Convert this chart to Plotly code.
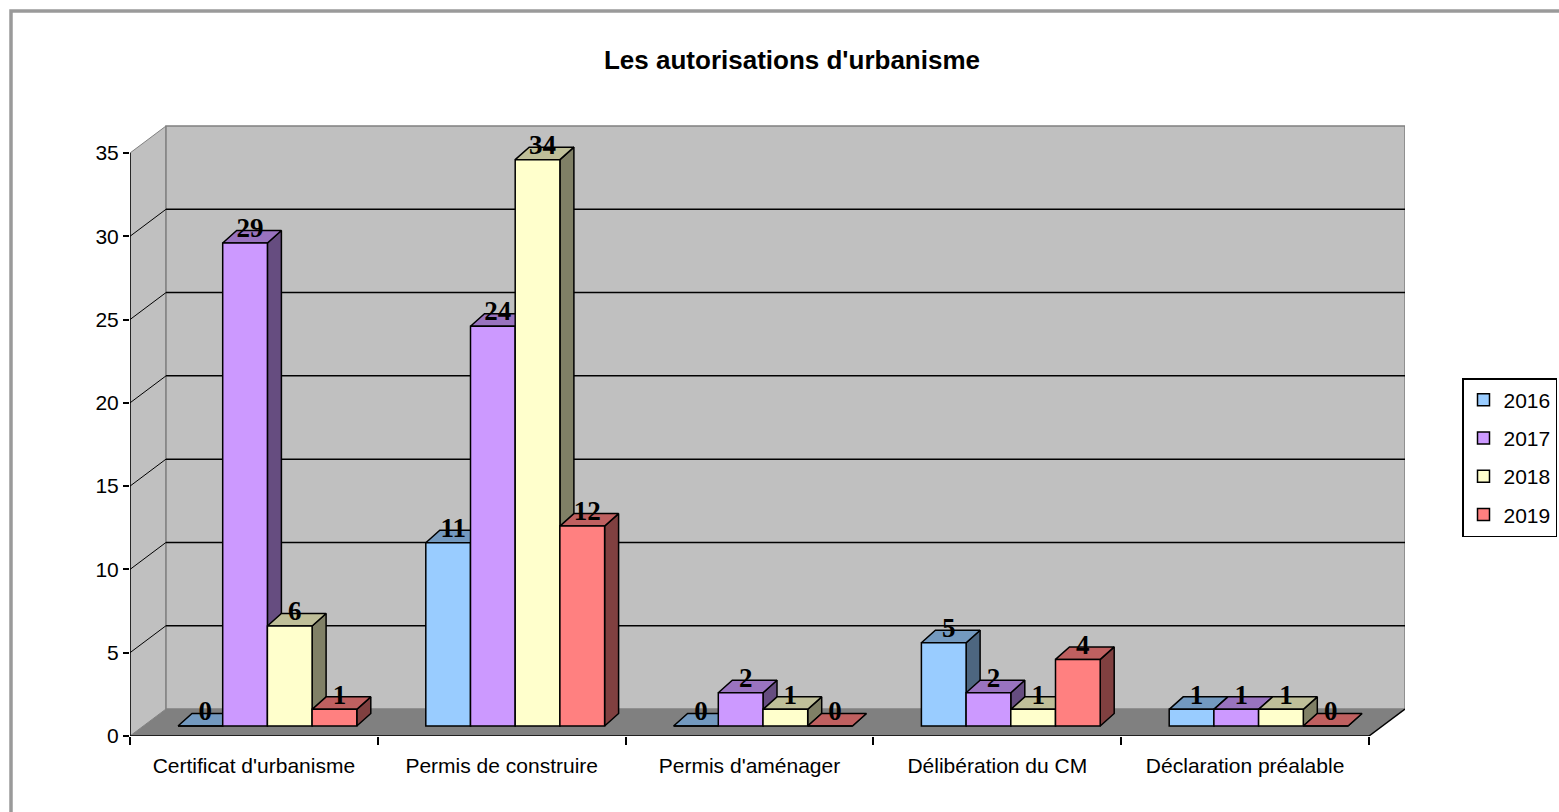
import plotly.graph_objects as go

# ---------------- data ----------------
categories = ["Certificat d'urbanisme", "Permis de construire", "Permis d'aménager",
              "Délibération du CM", "Déclaration préalable"]
years = ["2016", "2017", "2018", "2019"]
v2016 = [0, 11, 0, 5, 1]
v2017 = [29, 24, 2, 2, 1]
v2018 = [6, 34, 1, 1, 1]
v2019 = [1, 12, 0, 4, 0]
y_ticks = [0, 5, 10, 15, 20, 25, 30, 35]
title_text = "Les autorisations d'urbanisme"

series = [v2016, v2017, v2018, v2019]
front_colors = ["#99CCFF", "#CC99FF", "#FFFFCC", "#FF8080"]
top_colors = ["#7399BF", "#9973BF", "#BFBF99", "#BF6060"]
side_colors = ["#4D6680", "#664D80", "#808066", "#804040"]

# ---------------- geometry (pixel-based layout constants) ----------------
W, H = 1559, 812
ML, MT = 130, 124
plot_w, plot_h = 1275, 612
MR = W - ML - plot_w
MB = H - MT - plot_h
PXX = (plot_w - 36) / 5.0          # px per category unit
PXY = 583 / 35.0                    # px per value unit
FDX = 36 / PXX                      # floor depth in x units
FDY = 27 / PXY                      # floor depth in y units
XMIN = -0.5
XMAX = 4.5 + FDX
YMAX = plot_h / PXY
BW = 44.7 / PXX                     # bar width
BOFF = 13.5 / PXX                   # bar group shift (depth)
BASE = 0.6                          # bar base height (depth)
BDX = 14 / PXX                      # bar depth x
BDY = 12.5 / PXY                    # bar depth y
TXT_DX = 5 / PXX

fig = go.Figure()

for k, (yr, vals) in enumerate(zip(years, series)):
    xc = [i + BOFF + (k - 1.5) * BW for i in range(len(categories))]
    tx, ty, sx, sy = [], [], [], []
    for c, v in zip(xc, vals):
        xl, xr = c - BW / 2, c + BW / 2
        top = BASE + v
        tx += [xl, xr, xr + BDX, xl + BDX, xl, None]
        ty += [top, top, top + BDY, top + BDY, top, None]
        sx += [xr, xr, xr + BDX, xr + BDX, xr, None]
        sy += [BASE, top, top + BDY, BASE + BDY, BASE, None]
    fig.add_trace(go.Scatter(x=sx, y=sy, mode="lines", fill="toself",
                             fillcolor=side_colors[k], line=dict(color="black", width=1.5),
                             showlegend=False, hoverinfo="skip", zorder=2 * k))
    fig.add_trace(go.Scatter(x=tx, y=ty, mode="lines", fill="toself",
                             fillcolor=top_colors[k], line=dict(color="black", width=1.5),
                             showlegend=False, hoverinfo="skip", zorder=2 * k))
    fig.add_trace(go.Bar(x=xc, y=vals, base=BASE, width=BW, name=yr, legendgroup=yr,
                         marker=dict(color=front_colors[k], line=dict(color="black", width=1.5)),
                         zorder=2 * k + 1, hoverinfo="skip"))

for k, vals in enumerate(series):
    xc = [i + BOFF + (k - 1.5) * BW + TXT_DX for i in range(len(categories))]
    fig.add_trace(go.Scatter(x=xc, y=[BASE + v + BDY for v in vals], mode="text",
                             text=[f"<b>{v}</b>" for v in vals], textposition="middle center",
                             textfont=dict(family="Liberation Serif, Times New Roman, serif",
                                           size=27, color="black"),
                             showlegend=False, hoverinfo="skip", zorder=20))

shapes = []
# outer frame
shapes.append(dict(type="rect", xref="paper", yref="paper",
                   x0=(11 - ML) / plot_w, x1=2, y0=-1,
                   y1=(MT + plot_h - 11) / plot_h,
                   line=dict(color="#9A9A9A", width=3.5), fillcolor="rgba(0,0,0,0)", layer="below"))
# side wall
shapes.append(dict(type="path", xref="x", yref="y",
                   path=f"M {XMIN},0 L {XMIN},35 L {XMIN + FDX},{35 + FDY} L {XMIN + FDX},{FDY} Z",
                   fillcolor="#C0C0C0", line=dict(color="#808080", width=1), layer="below"))
# back wall
shapes.append(dict(type="rect", xref="x", yref="y", x0=XMIN + FDX, x1=XMAX, y0=FDY, y1=35 + FDY,
                   fillcolor="#C0C0C0", line=dict(color="#808080", width=1.5), layer="below"))
# gridlines
for v in y_ticks[1:-1]:
    shapes.append(dict(type="line", xref="x", yref="y", x0=XMIN + FDX, x1=XMAX,
                       y0=v + FDY, y1=v + FDY, line=dict(color="black", width=1.5), layer="below"))
    shapes.append(dict(type="line", xref="x", yref="y", x0=XMIN, x1=XMIN + FDX,
                       y0=v, y1=v + FDY, line=dict(color="black", width=1), layer="below"))
# floor
shapes.append(dict(type="path", xref="x", yref="y",
                   path=f"M {XMIN},0 L 4.5,0 L {XMAX},{FDY} L {XMIN + FDX},{FDY} Z",
                   fillcolor="#808080", line=dict(width=0), layer="below"))
# axis lines
shapes.append(dict(type="line", xref="x", yref="y", x0=XMIN, x1=XMIN, y0=0, y1=35,
                   line=dict(color="black", width=1.5), layer="below"))
shapes.append(dict(type="line", xref="x", yref="y", x0=XMIN, x1=4.5, y0=0, y1=0,
                   line=dict(color="black", width=1.5), layer="below"))
shapes.append(dict(type="line", xref="x", yref="y", x0=4.5, x1=XMAX, y0=0, y1=FDY,
                   line=dict(color="black", width=1.5), layer="below"))

font_sans = "Arial, Liberation Sans, sans-serif"
fig.update_layout(
    width=W, height=H,
    margin=dict(l=ML, r=MR, t=MT, b=MB, pad=0, autoexpand=False),
    paper_bgcolor="white", plot_bgcolor="white",
    barmode="overlay",
    hovermode=False,
    shapes=shapes,
    title=dict(text=f"<b>{title_text}</b>", x=792 / W, xanchor="center",
               y=1 - 60 / H, yanchor="middle", yref="container",
               font=dict(family=font_sans, size=26, color="black")),
    xaxis=dict(range=[XMIN, XMAX], tickmode="array", tickvals=list(range(len(categories))),
               ticktext=categories, ticks="outside", ticklen=11, tickcolor="rgba(0,0,0,0)",
               minor=dict(tickmode="array", tickvals=[i - 0.5 for i in range(len(categories) + 1)],
                          ticks="outside", ticklen=8, tickcolor="black", tickwidth=1.5, showgrid=False),
               showgrid=False, zeroline=False, showline=False,
               tickfont=dict(family=font_sans, size=21, color="black")),
    yaxis=dict(range=[0, YMAX], tickmode="array", tickvals=y_ticks, ticks="outside", ticklen=6,
               tickcolor="black", tickwidth=1.5, showgrid=False, zeroline=False, showline=False,
               tickfont=dict(family=font_sans, size=21, color="black")),
    legend=dict(x=(1557 - ML) / plot_w, xanchor="right",
                y=(MT + plot_h - 378) / plot_h, yanchor="top",
                bordercolor="black", borderwidth=1.5, bgcolor="white", tracegroupgap=8,
                font=dict(family=font_sans, size=21, color="black"), traceorder="grouped"),
)

fig.write_html("out.html", config={"displayModeBar": False},
               post_script="document.body.style.margin='0px';")
